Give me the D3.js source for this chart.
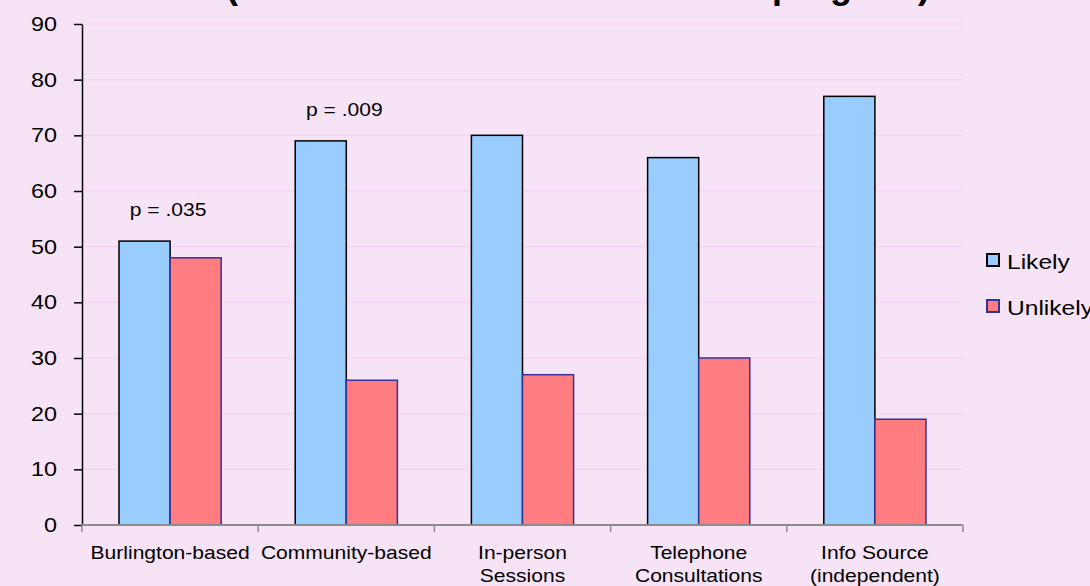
<!DOCTYPE html>
<html>
<head>
<meta charset="utf-8">
<script src="https://cdn.jsdelivr.net/npm/d3@7"></script>
<style>
  html, body { margin: 0; padding: 0; background: #F6E3F6; }
  svg { display: block; font-family: Arial, "Liberation Sans", sans-serif; }
</style>
</head>
<body>
<svg id="chart" width="1090" height="586"></svg>
<script>
// Chart data
const categories = [
  ["Burlington-based"],
  ["Community-based"],
  ["In-person", "Sessions"],
  ["Telephone", "Consultations"],
  ["Info Source", "(independent)"]
];
const seriesNames = ["Likely", "Unlikely"];
const likely = [51, 69, 70, 66, 77];
const unlikely = [48, 26, 27, 30, 19];
const pLabels = ["p = .035", "p = .009", "", "", ""];
const yTicks = [0, 10, 20, 30, 40, 50, 60, 70, 80, 90];
const titleText = "(interest in each mode of a new program)";

const fills = ["#99CCFF", "#FF7C80"];
const strokes = ["#000000", "#333399"];
const WIDEN = 1.17; // horizontal widening of the chart's lettering

const svg = d3.select("#chart");
const W = 1090, H = 586;
const margin = { left: 82, right: 127, top: 24, bottom: 61 };
const plotW = W - margin.left - margin.right;
const plotH = H - margin.top - margin.bottom;

svg.append("rect").attr("width", W).attr("height", H).attr("fill", "#F6E3F6");

const g = svg.append("g").attr("transform", `translate(${margin.left},${margin.top})`);

const x = d3.scaleBand().domain(d3.range(categories.length)).range([0, plotW]).paddingInner(0).paddingOuter(0);
const y = d3.scaleLinear().domain([0, 90]).range([plotH, 0]);
const groupW = x.bandwidth() * 0.58;
const xs = d3.scaleBand().domain(seriesNames).range([0, groupW]).padding(0);

// Horizontal gridlines
g.selectAll("line.grid").data(yTicks.filter(d => d > 0)).join("line")
  .attr("class", "grid")
  .attr("x1", 0).attr("x2", plotW)
  .attr("y1", d => y(d)).attr("y2", d => y(d))
  .attr("stroke", "#F9D3F7").attr("stroke-width", 1.5);

// Bars
const rows = categories.map((c, i) => ({ i, values: [likely[i], unlikely[i]] }));
const groups = g.selectAll("g.grp").data(rows).join("g")
  .attr("class", "grp")
  .attr("transform", d => `translate(${x(d.i) + (x.bandwidth() - groupW) / 2},0)`);
groups.selectAll("rect").data(d => d.values.map((v, k) => ({ v, k }))).join("rect")
  .attr("x", d => xs(seriesNames[d.k]))
  .attr("y", d => y(d.v))
  .attr("width", xs.bandwidth())
  .attr("height", d => y(0) - y(d.v))
  .attr("fill", d => fills[d.k])
  .attr("stroke", d => strokes[d.k])
  .attr("stroke-width", 1.5);

// p-value annotations above each group's taller bar
g.selectAll("text.pval").data(rows.filter(d => pLabels[d.i])).join("text")
  .attr("class", "pval")
  .attr("text-anchor", "middle")
  .attr("font-size", 18)
  .attr("fill", "#000")
  .attr("transform", d => `translate(${x(d.i) + x.bandwidth() / 2 - 2},${y(d3.max(d.values)) - 25}) scale(${WIDEN},1)`)
  .text(d => pLabels[d.i]);

// Y axis
const yAxis = g.append("g")
  .call(d3.axisLeft(y).tickValues(yTicks).tickSize(8).tickPadding(14).tickSizeOuter(0));
yAxis.select(".domain").attr("stroke", "#000").attr("stroke-width", 1.5);
yAxis.selectAll(".tick line").attr("stroke", "#000").attr("stroke-width", 1.5);
yAxis.selectAll(".tick text")
  .attr("x", 0)
  .attr("transform", `translate(-25,0) scale(${WIDEN},1)`)
  .attr("font-size", 20).attr("fill", "#000")
  .attr("font-family", "Arial, 'Liberation Sans', sans-serif");

// X axis with ticks at category boundaries
const xAxisG = g.append("g").attr("transform", `translate(0,${plotH})`);
xAxisG.append("line").attr("x1", 0).attr("x2", plotW).attr("y1", 0).attr("y2", 0)
  .attr("stroke", "#8C8C8C").attr("stroke-width", 2);
xAxisG.selectAll("line.xt").data(d3.range(categories.length + 1)).join("line")
  .attr("class", "xt")
  .attr("x1", d => d * x.step()).attr("x2", d => d * x.step())
  .attr("y1", 0).attr("y2", 7)
  .attr("stroke", "#8C8C8C").attr("stroke-width", 1.5);
const xl = xAxisG.selectAll("text.xl").data(categories).join("text")
  .attr("class", "xl")
  .attr("text-anchor", "middle")
  .attr("font-size", 18)
  .attr("fill", "#000")
  .attr("transform", (d, i) => `translate(${x(i) + x.bandwidth() / 2},34) scale(${WIDEN},1)`);
xl.selectAll("tspan").data(d => d).join("tspan")
  .attr("x", 0)
  .attr("dy", (d, j) => j === 0 ? 0 : 23)
  .text(d => d);

// Title (second line, mostly above the frame)
svg.append("text")
  .attr("x", 578).attr("y", -2)
  .attr("text-anchor", "middle")
  .attr("font-size", 36).attr("font-weight", "bold").attr("fill", "#000")
  .text(titleText);

// Legend
const legend = svg.append("g").attr("transform", "translate(987,254)");
const li = legend.selectAll("g").data(seriesNames).join("g")
  .attr("transform", (d, i) => `translate(0,${i * 46})`);
li.append("rect").attr("width", 12).attr("height", 12)
  .attr("fill", (d, i) => fills[i]).attr("stroke", (d, i) => strokes[i]).attr("stroke-width", 2);
li.append("text")
  .attr("transform", `translate(20,15) scale(${WIDEN},1)`)
  .attr("font-size", 21).attr("fill", "#000").text(d => d);
</script>
</body>
</html>
